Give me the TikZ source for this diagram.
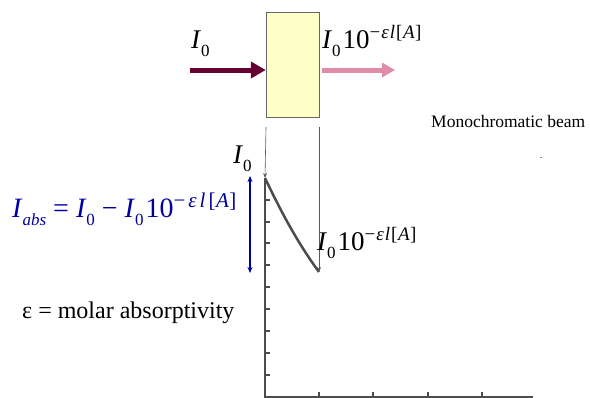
\documentclass[tikz,border=0pt]{standalone}
\usepackage{fontspec}
\setmainfont{Liberation Serif}
\usepackage{tikz}
\usetikzlibrary{arrows.meta}

\definecolor{beamred}{RGB}{102,0,51}
\definecolor{beampink}{RGB}{222,140,168}
\definecolor{cellyellow}{RGB}{255,255,200}
\definecolor{absblue}{RGB}{0,0,160}

\newcommand{\Izero}{\textit{I}\raisebox{-8pt}{\fontsize{17}{17}\selectfont 0}}
\newcommand{\Tpowk}[2]{\kern2pt 10\raisebox{10pt}{\fontsize{#1}{#1}\selectfont
    −\kern#2\textit{ε}\kern#2\textit{l}\kern#2[\kern0.5pt\textit{A}\kern0.5pt]}}
\newcommand{\Tpow}{\Tpowk{19}{1pt}}

\begin{document}
\begin{tikzpicture}[x=1pt, y=-1pt,
    cell/.style={draw=gray!80!black, fill=cellyellow, minimum width=53pt, minimum height=105pt, inner sep=0pt},
    label/.style={inner sep=0pt, anchor=base west, font=\fontsize{27}{30}\selectfont},
    beamin/.style={-{Triangle[length=15pt, width=16pt]}, line width=5pt, beamred},
    beamout/.style={-{Triangle[length=13pt, width=14pt]}, line width=5pt, beampink},
    guide/.style={-{Stealth[length=5pt, width=4pt]}, gray!70!black, line width=0.6pt},
    axis/.style={line width=2.5pt, gray!60!black},
    absarrow/.style={{Stealth[length=6pt, width=5pt]}-{Stealth[length=6pt, width=5pt]}, absblue, line width=1.3pt}]

    \useasboundingbox (0,0) rectangle (590,397);

    % Define the cell and the beams
    \node[cell] (cuvette) at (292.5,64.5) {};
    \coordinate (src) at (190,70);
    \coordinate (dst) at (395,70);
    \draw[beamin] (src) -- (cuvette.west |- src);
    \draw[beamout] (cuvette.east |- dst) ++(3,0) -- (dst);
    \node[label] (iin) at (191,48) {\Izero};
    \node[label] (iout) at (322,48) {\Izero\Tpow};
    \node[font=\fontsize{17.5}{20}\selectfont, anchor=base west, inner sep=0pt] (mono) at (431,127) {Monochromatic beam};
    \node[font=\fontsize{10}{10}\selectfont, inner sep=0pt] (dot) at (541,158) {.};

    % Define the intensity plot
    \coordinate (ytop) at (265,178);
    \coordinate (origin) at (265,397);
    \coordinate (xend) at (533,397);
    \coordinate (pend) at (319,272);
    \draw[axis] (ytop) -- (origin) -- (xend);
    \foreach \ty in {200,221.5,243,265,287,309,331,353,375}
        \draw[axis, line width=2pt] (265,\ty) -- ++(5,0);
    \foreach \tx in {319,373,428,482}
        \draw[axis, line width=2pt] (\tx,397) -- ++(0,-5);
    \draw[axis] (ytop) .. controls (284,218) and (300,246) .. (pend);

    % Connect the cell to the plot
    \coordinate (gl) at (266,127);
    \coordinate (gr) at (319,127);
    \draw[guide] (gl) -- (ytop);
    \draw[guide] (gr) -- (pend);
    \node[label] (itop) at (233,163) {\Izero};
    \node[label] (iend) at (317,250) {\Izero\Tpow};

    % Absorbed part
    \coordinate (atop) at (250,176);
    \coordinate (abot) at (250,273);
    \draw[absarrow] (atop) -- (abot);
    \node[label, absblue, font=\fontsize{28}{30}\selectfont] (iabs) at (12,217)
        {\textit{I}\raisebox{-8pt}{\fontsize{17}{17}\selectfont\textit{abs}} = \Izero{} − \Izero\Tpowk{21}{3pt}};
    \node[label, font=\fontsize{24}{26}\selectfont] (eps) at (22,318) {ε = molar absorptivity};
\end{tikzpicture}
\end{document}
